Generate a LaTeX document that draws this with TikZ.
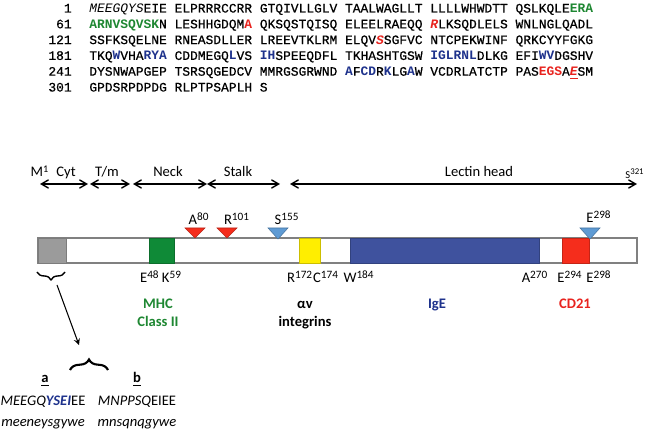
\documentclass[tikz,border=0pt]{standalone}
\usepackage{fontspec}
\setmainfont{Carlito}
\newfontfamily\seqfont[UprightFeatures={FakeBold=0.6}]{Liberation Mono}
\usepackage{tikz}
\usetikzlibrary{arrows,decorations.pathreplacing}
\usepackage{xcolor}
\definecolor{seqgreen}{RGB}{30,135,50}
\definecolor{seqblue}{RGB}{30,50,140}
\definecolor{seqred}{RGB}{232,35,30}
\definecolor{boxgrey}{RGB}{155,155,155}
\definecolor{boxgreen}{RGB}{15,138,55}
\definecolor{boxyellow}{RGB}{255,238,0}
\definecolor{boxblue}{RGB}{63,82,158}
\definecolor{boxred}{RGB}{245,45,28}
\definecolor{triblue}{RGB}{95,155,212}
\newcommand{\seqG}[1]{\textcolor{seqgreen}{\bfseries #1}}
\newcommand{\seqB}[1]{\textcolor{seqblue}{\bfseries #1}}
\newcommand{\seqR}[1]{\textcolor{seqred}{\bfseries #1}}
\newcommand{\res}[1]{\textsuperscript{\fontsize{6.4}{7}\selectfont #1}}

\begin{document}
\begin{tikzpicture}[x=0.02cm,y=-0.02cm,font=\fontsize{8.3}{10}\selectfont]
        \useasboundingbox (0,0) rectangle (650,435);
        \tikzset{fleche/.style={<->,>=angle 60,thick},
          num/.style={anchor=base east,inner sep=0,font=\seqfont\fontsize{7.35}{9}\selectfont},
          seqline/.style={anchor=base west,inner sep=0,font=\seqfont\fontsize{7.35}{9}\selectfont},
          lbl/.style={anchor=base,inner sep=0},
          partner/.style={anchor=base,inner sep=0,font=\fontsize{8.3}{10}\selectfont\bfseries},
          domaine/.style={draw=#1!80!black,fill=#1,line width=0.5pt},
          pointe/.style={fill=#1,draw=#1!75!black,line width=0.3pt}}
        % sequence
        \node[num] (N1) at (72,12.5) {1};
        \node[num] (N2) at (72,28.3) {61};
        \node[num] (N3) at (72,44.1) {121};
        \node[num] (N4) at (72,59.9) {181};
        \node[num] (N5) at (72,75.7) {241};
        \node[num] (N6) at (72,91.5) {301};
        \node[seqline] (L1) at (89,12.5) {{\itshape MEEGQYS}EIE ELPRRRCCRR GTQIVLLGLV TAALWAGLLT LLLLWHWDTT QSLKQLE\seqG{ERA}};
        \node[seqline] (L2) at (89,28.3) {\seqG{ARNVSQVSK}N LESHHGDQM\seqR{A} QKSQSTQISQ ELEELRAEQQ \seqR{\itshape R}LKSQDLELS WNLNGLQADL};
        \node[seqline] (L3) at (89,44.1) {SSFKSQELNE RNEASDLLER LREEVTKLRM ELQV\seqR{\itshape S}SGFVC NTCPEKWINF QRKCYYFGKG};
        \node[seqline] (L4) at (89,59.9) {TKQ\seqB{W}VHA\seqB{RYA} CDDMEGQ\seqB{L}VS \seqB{IH}SPEEQDFL TKHASHTGSW \seqB{IGLRNL}DLKG EFI\seqB{WV}DGSHV};
        \node[seqline] (L5) at (89,75.7) {DYSNWAPGEP TSRSQGEDCV MMRGSGRWND \seqB{A}F\seqB{CD}R\seqB{K}LG\seqB{A}W VCDRLATCTP PAS\seqR{EGS}A\seqR{\itshape\underline{E}}SM};
        \node[seqline] (L6) at (89,91.5) {GPDSRPDPDG RLPTPSAPLH S};
        % regions
        \node[lbl] (M1) at (40,177) {M\textsuperscript{1}};
        \node[lbl] (Cyt) at (66,177) {Cyt};
        \node[lbl] (TM) at (107,177) {T/m};
        \node[lbl] (Neck) at (168,177) {Neck};
        \node[lbl] (Stalk) at (238,177) {Stalk};
        \node[lbl] (LH) at (479,177) {Lectin head};
        \node[lbl,font=\fontsize{6}{7}\selectfont] (S321) at (635,179) {S\textsuperscript{321}};
        \coordinate (c0) at (40,184);
        \coordinate (c1) at (88,184);
        \coordinate (c2) at (90,184);
        \coordinate (c3) at (130,184);
        \coordinate (c4) at (133,184);
        \coordinate (c5) at (207,184);
        \coordinate (c6) at (280,184);
        \coordinate (c7) at (290,184);
        \coordinate (c8) at (637,184);
        \draw[fleche] (c0) -- (c1);
        \draw[fleche] (c2) -- (c3);
        \draw[fleche] (c4) -- (c5);
        \draw[fleche] (c5) -- (c6);
        \draw[fleche] (c7) -- (c8);
        % bar and domains
        \draw[draw=gray,fill=white,line width=0.6pt] (38,238) rectangle (637,263);
        \draw[domaine=boxgrey] (38,238) rectangle (66,263);
        \draw[domaine=boxgreen] (149,238) rectangle (174,263);
        \draw[domaine=boxyellow] (299,238) rectangle (320,263);
        \draw[domaine=boxblue] (350,238) rectangle (539,263);
        \draw[domaine=boxred] (562,238) rectangle (589,263);
        \draw[pointe=boxred] (195,238) -- (185,228) -- (205,228) -- cycle;
        \draw[pointe=boxred] (227,238) -- (217,228) -- (237,228) -- cycle;
        \draw[pointe=triblue] (278,239) -- (268,228) -- (288,228) -- cycle;
        \draw[pointe=triblue] (590,239) -- (580,228) -- (600,228) -- cycle;
        \node[lbl] (A80) at (199,225) {A\res{80}};
        \node[lbl] (R101) at (237,225) {R\res{101}};
        \node[lbl] (S155) at (287,225) {S\res{155}};
        \node[lbl] (E298t) at (599,223) {E\res{298}};
        \node[lbl] (EK) at (161,283) {E\res{48}\,K\res{59}};
        \node[lbl] (RC) at (313,283) {R\res{172}C\res{174}};
        \node[lbl] (W184) at (359,283) {W\res{184}};
        \node[lbl] (A270) at (535,283) {A\res{270}};
        \node[lbl] (E294) at (570,283) {E\res{294}};
        \node[lbl] (E298b) at (599,283) {E\res{298}};
        % binding partners
        \node[partner,text=seqgreen] (MHC) at (158,309) {MHC};
        \node[partner,text=seqgreen] (ClassII) at (158,327) {Class II};
        \node[partner] (AV) at (305,309) {αv};
        \node[partner] (Integ) at (305,327) {integrins};
        \node[partner,text=seqblue] (IgE) at (437,309) {IgE};
        \node[partner,text=seqred] (CD21) at (575,309) {CD21};
        % isoforms
        \draw[decorate,decoration={brace,amplitude=4.5pt},line width=0.8pt] (65,272) -- (37,272);
        \coordinate (fromB) at (57,285);
        \coordinate (toB) at (79,345);
        \draw[->,>=stealth,line width=0.6pt] (fromB) -- (toB);
        \draw[decorate,decoration={brace,amplitude=6pt},line width=1.2pt] (70,370) -- (108,370);
        \node[partner] (a) at (45,383) {\underline{a}};
        \node[partner] (b) at (137,383) {\underline{b}};
        \node[lbl] (Ia) at (43,406) {\itshape MEEGQ\textcolor{seqblue}{\bfseries YSEI}\upshape EE};
        \node[lbl] (Ib) at (137,406) {\itshape MNPPSQ\upshape EIEE};
        \node[lbl] (ia) at (43,427) {\itshape meeneysgywe};
        \node[lbl] (ib) at (137,427) {\itshape mnsqnqgywe};
\end{tikzpicture}
\end{document}
